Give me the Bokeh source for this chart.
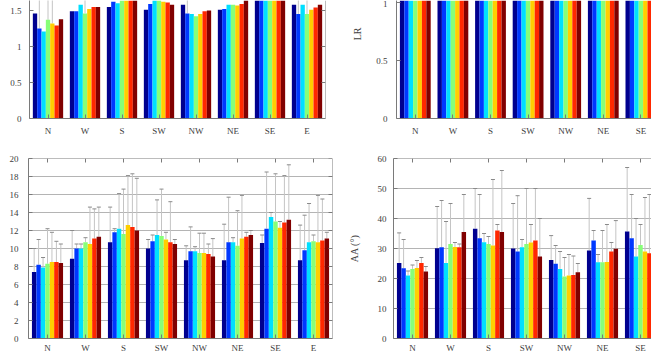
from bokeh.plotting import figure
from bokeh.models import LinearAxis, FixedTicker, Range1d, ColumnDataSource, Grid, Span, Title
from bokeh.layouts import row, column
from bokeh.embed import file_html
from bokeh.resources import INLINE

nan = float("nan")

directions = ["N", "W", "S", "SW", "NW", "NE", "SE", "E"]
series_colors = ["#00008F", "#0038FF", "#00DFFF", "#87FF78", "#FFCF00", "#FF2800", "#800000"]

# top-left panel (cropped at top)
tl_mean = [
    [1.46, 1.25, 1.21, 1.37, 1.32, 1.29, 1.38],
    [1.49, 1.49, 1.58, 1.46, 1.52, 1.55, 1.55],
    [1.55, 1.62, 1.60, 1.66, 1.68, 1.70, 1.70],
    [1.51, 1.59, 1.66, 1.66, 1.62, 1.61, 1.58],
    [1.58, 1.46, 1.45, 1.42, 1.45, 1.49, 1.50],
    [1.51, 1.52, 1.58, 1.58, 1.57, 1.59, 1.65],
    [1.70, 1.75, 1.80, 1.80, 1.75, 1.70, 1.72],
    [1.58, 1.45, 1.58, 1.45, 1.51, 1.54, 1.58],
]
tl_err = [
    [nan, 1.80, nan, 1.85, 1.90, nan, nan],
    [nan, nan, nan, 1.80, nan, nan, nan],
    [nan, nan, nan, nan, nan, nan, nan],
    [nan, nan, nan, nan, nan, nan, nan],
    [nan, 1.80, nan, nan, nan, nan, nan],
    [nan, nan, nan, nan, nan, nan, nan],
    [nan, nan, nan, nan, nan, nan, nan],
    [nan, 1.75, nan, 1.80, nan, nan, nan],
]
tl_ticks = [0, 0.5, 1, 1.5]

# top-right panel "LR" (cropped at top)
tr_mean = [
    [1.30, 1.28, 1.25, 1.32, 1.30, 1.27, 1.31],
    [1.35, 1.33, 1.36, 1.34, 1.37, 1.35, 1.38],
    [1.40, 1.42, 1.41, 1.44, 1.43, 1.45, 1.44],
    [1.36, 1.38, 1.40, 1.39, 1.37, 1.38, 1.36],
    [1.33, 1.30, 1.29, 1.28, 1.30, 1.31, 1.32],
    [1.34, 1.36, 1.38, 1.37, 1.39, 1.40, 1.41],
    [1.45, 1.47, 1.50, 1.49, 1.48, 1.46, 1.47],
    [1.35, 1.32, 1.36, 1.33, 1.35, 1.36, 1.37],
]
tr_ticks = [0, 0.5, 1]

# bottom-left panel (0-20)
bl_mean = [
    [7.4, 8.2, 7.9, 8.3, 8.5, 8.5, 8.4],
    [8.85, 10.0, 10.0, 10.7, 10.5, 11.1, 11.3],
    [10.7, 11.8, 12.2, 11.6, 12.6, 12.4, 12.0],
    [10.0, 10.8, 11.5, 11.4, 11.0, 10.7, 10.5],
    [8.7, 9.7, 9.7, 9.5, 9.5, 9.4, 9.1],
    [8.7, 10.7, 10.7, 10.3, 11.1, 11.3, 11.5],
    [10.6, 12.2, 13.5, 13.0, 12.3, 12.9, 13.2],
    [8.7, 9.8, 10.7, 10.8, 10.7, 10.9, 11.1],
]
bl_err = [
    [10.0, 11.0, 9.0, 12.2, 11.8, 10.8, 10.5],
    [12.0, 10.5, 10.5, 11.2, 14.6, 14.4, 14.6],
    [14.6, 12.2, 16.1, 16.6, 18.1, 18.3, 17.8],
    [11.0, 11.5, 15.4, 16.6, 11.8, 15.2, 11.0],
    [10.3, 12.4, 10.2, 11.7, 11.7, 10.5, 11.1],
    [12.7, 15.7, 11.2, 14.2, 15.9, 11.8, 12.0],
    [11.5, 18.5, 14.0, 18.3, 13.0, 18.1, 19.3],
    [12.6, 13.7, 15.0, 11.5, 15.9, 15.5, 11.8],
]
bl_ticks = [0, 2, 4, 6, 8, 10, 12, 14, 16, 18, 20]

# bottom-right panel "AA (°)" (0-60)
br_mean = [
    [25.2, 23.4, 21.0, 23.2, 23.5, 25.2, 22.3],
    [30.1, 30.4, 25.2, 31.5, 30.5, 30.4, 35.5],
    [36.6, 33.4, 32.1, 31.5, 31.0, 36.0, 35.5],
    [30.0, 29.0, 30.4, 31.5, 32.0, 32.7, 27.3],
    [26.2, 24.9, 23.2, 20.7, 21.0, 21.2, 22.1],
    [29.3, 32.7, 25.4, 25.4, 25.5, 29.0, 29.9],
    [35.7, 33.4, 27.3, 31.2, 29.0, 28.4, 28.0],
    [30.5, 31.0, 28.0, 29.5, 30.0, 31.0, 31.5],
]
br_err = [
    [35.2, 33.0, 22.5, 24.5, 26.0, 27.0, 24.0],
    [44.0, 46.0, 39.0, 45.0, 32.0, 31.5, 48.0],
    [50.0, 48.0, 35.0, 34.0, 53.0, 38.0, 56.0],
    [45.0, 47.6, 33.0, 50.0, 38.0, 50.0, 40.0],
    [34.3, 31.0, 29.0, 27.0, 28.0, 27.5, 25.0],
    [46.7, 36.0, 28.0, 36.0, 38.0, 32.0, 39.3],
    [57.0, 48.0, 40.0, 38.0, 47.0, 48.0, 45.0],
    [40.0, 38.0, 35.0, 37.0, 36.0, 39.0, 40.0],
]
br_ticks = [0, 10, 20, 30, 40, 50, 60]

FONT = "Liberation Serif"
AX_COL = "#7a7a7a"
LBL_COL = "#404040"
BW = 0.117
TICK_PX = 4


def style_axis(ax, standoff=6):
    ax.axis_line_color = AX_COL
    ax.major_tick_line_color = AX_COL
    ax.major_tick_in = TICK_PX
    ax.major_tick_out = 0
    ax.minor_tick_line_color = None
    ax.major_label_text_font = FONT
    ax.major_label_text_font_size = "9px"
    ax.major_label_text_color = LBL_COL
    ax.major_label_standoff = standoff


def panel(means, errs, width, height, x_end, y_end, yticks, mb, ystand, xstand,
          right=False, top=False, grid=False, ylabel=None):
    p = figure(width=width, height=height, output_backend="svg", toolbar_location=None,
               x_range=Range1d(0.5, x_end), y_range=Range1d(0, y_end),
               x_axis_location=None, y_axis_location=None,
               min_border_left=mb[0], min_border_right=mb[1],
               min_border_top=mb[2], min_border_bottom=mb[3])
    p.outline_line_color = None
    p.background_fill_color = "white"
    p.border_fill_color = "white"
    p.grid.visible = False

    frame_w = width - mb[0] - mb[1]
    frame_h = height - mb[2] - mb[3]
    px_x = (x_end - 0.5) / frame_w
    px_y = y_end / frame_h

    xs, tops, cols, ers = [], [], [], []
    for i, grp in enumerate(means):
        for j, v in enumerate(grp):
            xs.append(i + 1 + (j - 3) * BW)
            tops.append(v)
            cols.append(series_colors[j])
            ers.append(errs[i][j] if errs is not None else nan)
    src = ColumnDataSource(dict(x=xs, top=tops, color=cols, err=ers))

    if grid:
        p.add_layout(Grid(dimension=1, ticker=FixedTicker(ticks=yticks),
                          grid_line_color="#b4b4b4", grid_line_width=1))

    if errs is not None:
        p.segment(x0="x", y0="top", x1="x", y1="err", source=src,
                  line_color="#c4c4c4", line_width=1)
        p.dash(x="x", y="err", source=src, size=4, line_color="#8a8a8a", line_width=1)

    p.vbar(x="x", top="top", width=BW, bottom=0, source=src,
           fill_color="color", line_color=None)

    cats = list(range(1, len(directions) + 1))
    xa = LinearAxis(ticker=FixedTicker(ticks=cats),
                    major_label_overrides={i + 1: d for i, d in enumerate(directions)})
    style_axis(xa, xstand)
    p.add_layout(xa, "below")

    ya = LinearAxis(ticker=FixedTicker(ticks=yticks))
    style_axis(ya, ystand)
    if ylabel:
        ya.axis_label = ylabel
        ya.axis_label_text_font = FONT
        ya.axis_label_text_font_size = "10px"
        ya.axis_label_text_font_style = "normal"
        ya.axis_label_text_color = LBL_COL
        ya.axis_label_standoff = 15
    p.add_layout(ya, "left")

    if right:
        p.add_layout(Span(location=x_end, dimension="height", line_color=AX_COL, line_width=1))
        p.segment(x0=[x_end] * len(yticks), y0=yticks,
                  x1=[x_end - TICK_PX * px_x] * len(yticks), y1=yticks,
                  line_color=AX_COL, line_width=1)
    if top:
        p.add_layout(Span(location=y_end, dimension="width", line_color=AX_COL, line_width=1))
        p.segment(x0=cats, y0=[y_end] * len(cats), x1=cats,
                  y1=[y_end - TICK_PX * px_y] * len(cats),
                  line_color=AX_COL, line_width=1)
    return p


W1, W2 = 333, 318
H1, H2 = 140, 215

p1 = panel(tl_mean, tl_err, W1, H1, 8.5, 1.5 + 10 / 72.0, tl_ticks,
           (29, 8, 0, 22), 8, 7, right=True)
p2 = panel(tr_mean, None, W2, H1, 0.5 + 255 / 37.6, 118 / 116.0, tr_ticks,
           (63, 0, 0, 22), 9, 7)
p2.add_layout(Title(text="LR", align="right", offset=27, standoff=22,
                    text_font=FONT, text_font_size="10px", text_font_style="normal",
                    text_color=LBL_COL), "left")
p3 = panel(bl_mean, bl_err, W1, H2, 8.5, 20, bl_ticks,
           (28, 1, 18, 17), 10, 4, right=True, top=True, grid=True)
p4 = panel(br_mean, br_err, W2, H2, 0.5 + 258 / 38.0, 60, br_ticks,
           (60, 0, 18, 17), 7, 4, top=True, grid=True, ylabel="AA (°)")

layout = column(row(p1, p2), row(p3, p4))
open("out.html", "w").write(file_html(layout, INLINE))
